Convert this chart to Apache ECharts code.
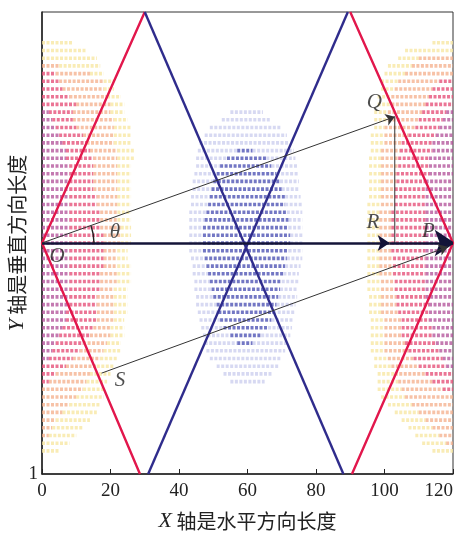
<!DOCTYPE html>
<html>
<head>
<meta charset="utf-8">
<script src="https://cdn.jsdelivr.net/npm/echarts@6/dist/echarts.min.js"></script>
<style>
  html, body { margin: 0; padding: 0; background: #fff; }
  #chart { width: 464px; height: 533px; }
</style>
</head>
<body>
<div id="chart"></div>
<script>
// x ticks along the bottom, the y axis only carries a "1" at its foot
const xTicks = [0, 20, 40, 60, 80, 100, 120]
const yFootLabel = '1'

// y is counted in rows of the dot pattern (row pitch), O/P sit on row 30
// left cloud rows: [y, deepEnd, redEnd, orangeEnd, yellowEnd]
const leftRows = [
  [56, 0, 0, 0, 9], [55, 0, 0, 0, 13], [54, 0, 0, 0, 16], [53, 0, 0, 5, 17],
  [52, 0, 4, 14, 18], [51, 0, 5, 18, 21], [50, 0, 6, 18, 21], [49, 0, 8, 19, 23],
  [48, 0, 10, 20, 24], [47, 2, 9, 20, 24], [46, 3, 9, 21, 25], [45, 4, 10, 21, 26],
  [44, 5, 12, 21, 26], [43, 6, 13, 21, 26], [42, 7, 14, 22, 27], [41, 7, 15, 22, 27],
  [40, 8, 15, 22, 26], [39, 8, 15, 22, 26], [38, 8, 15, 22, 26], [37, 8, 15, 22, 26],
  [36, 8, 16, 22, 26], [35, 8, 16, 22, 26], [34, 8, 17, 22, 26], [33, 8, 17, 22, 26],
  [32, 8, 17, 23, 26], [31, 8, 18, 23, 26], [30, 8, 18, 23, 26], [29, 8, 18, 22, 25],
  [28, 8, 18, 22, 25], [27, 8, 18, 22, 26], [26, 8, 17, 22, 26], [25, 8, 17, 22, 26],
  [24, 8, 17, 21, 25], [23, 8, 16, 21, 25], [22, 8, 16, 21, 25], [21, 7, 16, 21, 25],
  [20, 7, 16, 21, 24], [19, 6, 15, 20, 24], [18, 5, 14, 20, 24], [17, 4, 12, 19, 23],
  [16, 3, 11, 18, 23], [15, 2, 9, 17, 22], [14, 0, 7, 16, 21], [13, 0, 4, 14, 20],
  [12, 0, 2, 13, 19], [11, 0, 0, 12, 18], [10, 0, 0, 10, 18], [9, 0, 0, 8, 17],
  [8, 0, 0, 6, 16], [7, 0, 0, 4, 14], [6, 0, 0, 3, 12], [5, 0, 0, 2, 10],
  [4, 0, 0, 0, 8], [3, 0, 0, 0, 5]
]

// right cloud rows: [y, yellowStart, orangeStart, redStart, deepStart]
const rightRows = [
  [56, 114, 120, 120, 120], [55, 106, 120, 120, 120], [54, 104, 110, 120, 120], [53, 101, 108, 120, 120],
  [52, 100, 106, 120, 120], [51, 99, 104, 116, 120], [50, 99, 103, 114, 120], [49, 98, 102, 113, 120],
  [48, 98, 102, 112, 120], [47, 97, 101, 111, 118], [46, 97, 101, 110, 117], [45, 97, 100, 109, 116],
  [44, 96, 100, 107, 115], [43, 96, 100, 105, 114], [42, 96, 99, 104.5, 114], [41, 95.5, 99, 104, 113],
  [40, 95.5, 99, 104, 113], [39, 95.5, 99, 103.5, 113], [38, 95.5, 99, 103.5, 112], [37, 95.5, 99, 103, 112],
  [36, 95.5, 99, 103, 112], [35, 95, 99, 103, 112], [34, 95, 98.5, 102, 112], [33, 95, 98.5, 102, 112],
  [32, 95, 98.5, 102, 112], [31, 95, 98.5, 102, 112], [30, 95, 98.5, 102, 112], [29, 95, 98.5, 102, 112],
  [28, 95, 98.5, 102.5, 112], [27, 95, 98.5, 102.5, 112], [26, 95, 98.5, 102.5, 112], [25, 95, 99, 103, 112],
  [24, 95, 99, 103, 112], [23, 95.5, 99, 103.5, 112], [22, 95.5, 99, 103.5, 113], [21, 95.5, 99, 104, 113],
  [20, 96, 100, 105, 113], [19, 96, 100, 105, 114], [18, 96, 100, 105, 114], [17, 96, 100, 106, 115],
  [16, 96, 100, 107, 116], [15, 97, 101, 108.5, 117], [14, 97, 102, 110, 118], [13, 98, 103, 112, 120],
  [12, 98, 104, 114, 120], [11, 98, 105, 117, 120], [10, 99, 106, 120, 120], [9, 101, 108, 120, 120],
  [8, 103, 110, 120, 120], [7, 105, 112, 120, 120], [6, 107, 114, 120, 120], [5, 109, 116, 120, 120],
  [4, 111, 118, 120, 120], [3, 114, 120, 120, 120]
]

// centre (blue) cloud rows: [y, lightStart, strongStart, strongEnd, lightEnd]
const centerRows = [
  [47, 55, 60, 60, 64.5], [46, 52.5, 60, 60, 66.5], [45, 49, 60, 60, 70], [44, 47.5, 60, 60, 71.5],
  [43, 46, 60, 60, 72], [42, 45.5, 57, 61.5, 73.5], [41, 45, 54, 65.5, 74], [40, 45, 52, 67, 74.5],
  [39, 44.5, 51, 68.5, 75], [38, 44, 50, 69.5, 75], [37, 44, 49.5, 70, 75], [36, 43.5, 49, 71, 75.5],
  [35, 43.5, 48.5, 71, 76], [34, 43, 48, 71.5, 76], [33, 43, 47.5, 72, 76], [32, 43, 47, 72, 76],
  [31, 43, 47, 72.5, 76], [30, 43, 47, 72.5, 76], [29, 43, 47, 72, 76], [28, 43.5, 47.5, 71.5, 76],
  [27, 44, 48, 71, 75.5], [26, 44, 48.5, 70.5, 75], [25, 44.5, 49, 70, 75], [24, 44.5, 49.5, 69.5, 74.5],
  [23, 45, 50, 69, 74.5], [22, 45, 51, 68.5, 74], [21, 45.5, 51.5, 67.5, 74], [20, 46, 52, 67, 73.5],
  [19, 46.5, 53, 66, 73], [18, 47, 55, 64, 72.5], [17, 47.5, 57, 61.5, 72], [16, 48, 60, 60, 71],
  [15, 49, 60, 60, 70], [14, 51, 60, 60, 69], [13, 53, 60, 60, 67], [12, 55, 60, 60, 65]
]

// the zig-zag boundary lines
const redLeft = [[30, 60], [0, 30], [28.6, 0]]
const redRight = [[90, 60], [120, 30], [90.5, 0]]
const blueDown = [[30, 60], [88, 0]]
const blueUp = [[31, 0], [89.3, 60]]

// points of the construction
const ptO = [0, 30]
const ptQ = [103, 46.4]
const ptR = [103, 30]
const ptRhead = [101.5, 30]
const ptP = [120.5, 30]
const ptS = [17.4, 13.1]
const ptPend = [118.5, 29.5]

const pointLabels = [
  [4.4, 28.2, 'O'], [21.3, 31.4, 'θ'], [97, 48.2, 'Q'],
  [96.6, 32.6, 'R'], [112.8, 31.5, 'P'], [22.8, 12.2, 'S']
]

const bandColors = ['#b04d97', '#e6537a', '#f4ae8a', '#f7e7a4', '#5a5fba', '#cdd0ef']
const bandAlpha = [0.75, 0.8, 0.75, 0.8, 0.85, 0.8]

const segments = []
leftRows.forEach(([y, d, r, o, yl]) => {
  const stops = [0, d, r, o, yl]
  for (let i = 0; i < 4; i++) {
    if (stops[i + 1] > stops[i]) segments.push([stops[i], stops[i + 1], y, i])
  }
})
rightRows.forEach(([y, yl, o, r, d]) => {
  const stops = [yl, o, r, d, 120]
  const bands = [3, 2, 1, 0]
  for (let i = 0; i < 4; i++) {
    if (stops[i + 1] > stops[i]) segments.push([stops[i], stops[i + 1], y, bands[i]])
  }
})
centerRows.forEach(([y, l0, s0, s1, l1]) => {
  if (s1 > s0) {
    segments.push([l0, s0, y, 5], [s0, s1, y, 4], [s1, l1, y, 5])
  } else {
    segments.push([l0, l1, y, 5])
  }
})

const serif = 'Liberation Serif'
const cjk = 'Noto Sans CJK SC'

const chart = echarts.init(document.getElementById('chart'))

const boundary = (data, color) => ({
  type: 'line',
  data,
  symbol: 'none',
  z: 3,
  lineStyle: { color, width: 2.4 }
})

chart.setOption({
  animation: false,
  grid: {
    left: 42, right: 11, top: 12, bottom: 59,
    outerBoundsMode: 'none',
    containLabel: false,
    show: true, borderColor: '#333', borderWidth: 1
  },
  xAxis: {
    type: 'value',
    min: xTicks[0],
    max: xTicks[xTicks.length - 1],
    interval: 20,
    name: '{i|X} 轴是水平方向长度',
    nameLocation: 'middle',
    nameGap: 36,
    nameMoveOverlap: false,
    nameTextStyle: {
      fontFamily: cjk, fontSize: 20, color: '#222',
      rich: { i: { fontFamily: serif, fontStyle: 'italic', fontSize: 22, color: '#222' } }
    },
    axisLine: { lineStyle: { color: '#222', width: 1.5 } },
    axisTick: { inside: true, length: 5, lineStyle: { color: '#222' } },
    axisLabel: {
      fontFamily: serif, fontSize: 19, color: '#222', margin: 8,
      alignMaxLabel: 'right'
    },
    splitLine: { show: false }
  },
  yAxis: {
    type: 'value',
    min: 0,
    max: 60,
    interval: 60,
    name: '{i|Y} 轴是垂直方向长度',
    nameLocation: 'middle',
    nameRotate: 90,
    nameGap: 14,
    nameMoveOverlap: false,
    nameTextStyle: {
      fontFamily: cjk, fontSize: 20, color: '#222',
      rich: { i: { fontFamily: serif, fontStyle: 'italic', fontSize: 22, color: '#222' } }
    },
    axisLine: { lineStyle: { color: '#222', width: 1.5 } },
    axisTick: { show: false },
    axisLabel: {
      fontFamily: serif, fontSize: 19, color: '#222', margin: 4,
      formatter: v => (v === 0 ? yFootLabel : '')
    },
    splitLine: { show: false }
  },
  series: [
    {
      type: 'custom',
      data: segments,
      encode: { x: [0, 1], y: 2 },
      z: 1,
      clip: true,
      renderItem: (params, api) => {
        const a = api.coord([api.value(0), api.value(2)])
        const b = api.coord([api.value(1), api.value(2)])
        const band = api.value(3)
        return {
          type: 'line',
          shape: { x1: a[0], y1: a[1], x2: b[0], y2: b[1] },
          style: {
            stroke: bandColors[band],
            lineWidth: 3.6,
            lineDash: [3, 1.5],
            opacity: bandAlpha[band]
          }
        }
      }
    },
    boundary(redLeft, '#e2174c'),
    boundary(redRight, '#e2174c'),
    boundary(blueDown, '#2f2c8c'),
    boundary(blueUp, '#2f2c8c'),
    {
      type: 'line',
      data: [ptQ, ptR],
      symbol: 'none',
      z: 4,
      lineStyle: { color: '#333', width: 1 }
    },
    {
      type: 'lines',
      coordinateSystem: 'cartesian2d',
      z: 5,
      symbol: ['none', 'arrow'],
      data: [
        { coords: [ptO, ptRhead], symbolSize: 12, lineStyle: { color: '#141438', width: 2.6, opacity: 1 } },
        { coords: [ptRhead, ptP], symbolSize: 20, lineStyle: { color: '#141438', width: 2.6, opacity: 1 } },
        { coords: [ptO, ptQ], symbolSize: 9, lineStyle: { color: '#333', width: 1, opacity: 1 } },
        { coords: [ptS, ptPend], symbolSize: 9, lineStyle: { color: '#333', width: 1, opacity: 1 } }
      ]
    },
    {
      type: 'custom',
      data: [ptO],
      z: 5,
      renderItem: (params, api) => {
        const c = api.coord([api.value(0), api.value(1)])
        return {
          type: 'arc',
          shape: { cx: c[0], cy: c[1], r: 52, startAngle: -0.34, endAngle: 0 },
          style: { stroke: '#222', lineWidth: 1.4, fill: null }
        }
      }
    },
    {
      type: 'scatter',
      data: pointLabels,
      symbolSize: 0,
      z: 6,
      label: {
        show: true,
        position: 'inside',
        formatter: p => p.data[2],
        fontFamily: serif,
        fontStyle: 'italic',
        fontSize: 21,
        color: '#222'
      }
    }
  ]
})
</script>
</body>
</html>
